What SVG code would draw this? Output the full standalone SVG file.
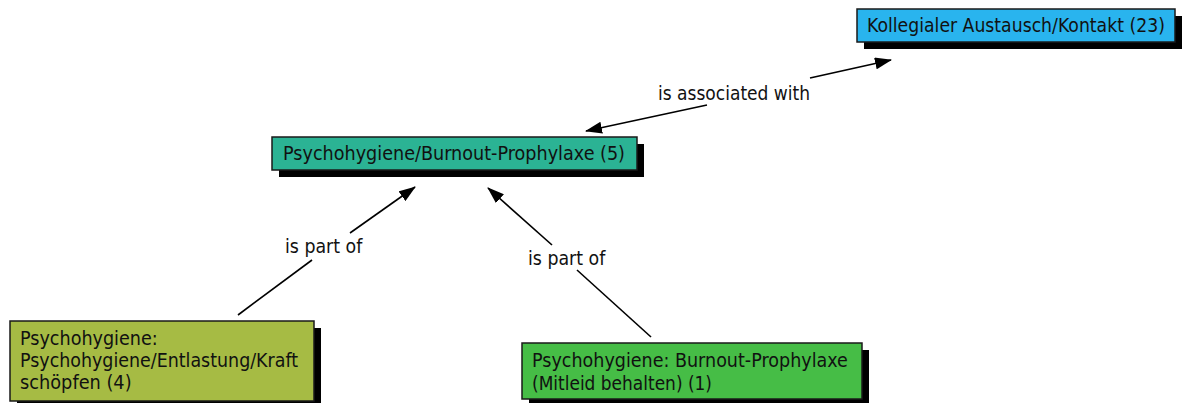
<svg xmlns="http://www.w3.org/2000/svg" width="1183" height="403" viewBox="0 0 1183 403">
  <style>
    .shadow { fill: #000; }
    .box { stroke: #1a1a1a; stroke-width: 1.5; }
    .lbl { font-family: "DejaVu Sans", "Liberation Sans", sans-serif; font-size: 19px; fill: #111; }
    .edge { stroke: #000; stroke-width: 1.6; fill: none; }
  </style>
  <defs>
    <marker id="arrow" viewBox="0 0 17 12" refX="16" refY="6" markerWidth="17" markerHeight="12" markerUnits="userSpaceOnUse" orient="auto-start-reverse">
      <path d="M0,0 L17,6 L0,12 Z" fill="#000"/>
    </marker>
  </defs>

  <rect width="1183" height="403" fill="#fff"/>

  <!-- connectors; labels are narrowed with scale(0.9,1) to a condensed face -->
  <g id="connectors">
    <!-- association, two-way -->
    <line class="edge" x1="586" y1="131" x2="707" y2="105" marker-start="url(#arrow)"/>
    <line class="edge" x1="810" y1="78" x2="891" y2="60" marker-end="url(#arrow)"/>
    <text class="lbl" transform="translate(658,100) scale(0.9,1)" textLength="169" lengthAdjust="spacingAndGlyphs">is associated with</text>

    <!-- left part-of -->
    <line class="edge" x1="238" y1="315" x2="312" y2="260"/>
    <line class="edge" x1="350" y1="233" x2="415" y2="187" marker-end="url(#arrow)"/>
    <text class="lbl" transform="translate(285,253) scale(0.9,1)" textLength="86" lengthAdjust="spacingAndGlyphs">is part of</text>

    <!-- right part-of -->
    <line class="edge" x1="651" y1="337" x2="577" y2="270"/>
    <line class="edge" x1="552" y1="245" x2="488" y2="188" marker-end="url(#arrow)"/>
    <text class="lbl" transform="translate(528,265) scale(0.9,1)" textLength="86" lengthAdjust="spacingAndGlyphs">is part of</text>
  </g>

  <!-- nodes -->
  <g id="node-kollegialer">
    <rect class="shadow" x="864" y="16" width="318" height="33"/>
    <rect class="box" x="857" y="9" width="318" height="33" fill="#29B4EE"/>
    <text class="lbl" transform="translate(867,32) scale(0.9,1)" textLength="331" lengthAdjust="spacingAndGlyphs">Kollegialer Austausch/Kontakt (23)</text>
  </g>

  <g id="node-psychohygiene">
    <rect class="shadow" x="279" y="144" width="365" height="33"/>
    <rect class="box" x="272" y="137" width="365" height="33" fill="#2BB394"/>
    <text class="lbl" transform="translate(283,160) scale(0.9,1)" textLength="380" lengthAdjust="spacingAndGlyphs">Psychohygiene/Burnout-Prophylaxe (5)</text>
  </g>

  <g id="node-entlastung">
    <rect class="shadow" x="17" y="328" width="304" height="80"/>
    <rect class="box" x="10" y="321" width="304" height="80" fill="#A6BB44"/>
    <text class="lbl" transform="translate(20,345) scale(0.9,1)" textLength="153" lengthAdjust="spacingAndGlyphs">Psychohygiene:</text>
    <text class="lbl" transform="translate(20,367) scale(0.9,1)" textLength="309" lengthAdjust="spacingAndGlyphs">Psychohygiene/Entlastung/Kraft</text>
    <text class="lbl" transform="translate(20,389) scale(0.9,1)" textLength="124" lengthAdjust="spacingAndGlyphs">schöpfen (4)</text>
  </g>

  <g id="node-mitleid">
    <rect class="shadow" x="529" y="350" width="340" height="56"/>
    <rect class="box" x="522" y="343" width="340" height="56" fill="#46BD46"/>
    <text class="lbl" transform="translate(532,367) scale(0.9,1)" textLength="351" lengthAdjust="spacingAndGlyphs">Psychohygiene: Burnout-Prophylaxe</text>
    <text class="lbl" transform="translate(532,390) scale(0.9,1)" textLength="200" lengthAdjust="spacingAndGlyphs">(Mitleid behalten) (1)</text>
  </g>
</svg>
